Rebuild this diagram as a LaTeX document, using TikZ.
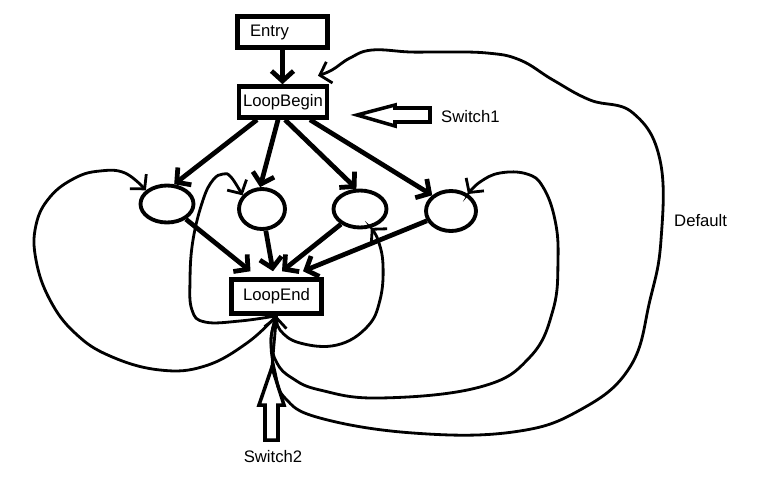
\documentclass[tikz,border=0pt]{standalone}
\usepackage{fontspec}
\setmainfont{Liberation Sans}
\usetikzlibrary{arrows.meta,shapes.geometric}

\begin{document}
\begin{tikzpicture}[
    x=0.02cm, y=-0.02cm,
    every node/.style={font=\fontsize{9.5}{11}\selectfont},
    box/.style={draw, line width=2.6pt, inner sep=0pt},
    blob/.style={draw, ellipse, line width=2.2pt, inner sep=0pt},
    flow/.style={line width=2.7pt,
                 -{Straight Barb[length=2mm,width=4.4mm]}},
    loopback/.style={line width=1.6pt,
                     -{Straight Barb[length=2mm,width=4.4mm]}},
    hollow/.style={draw, line width=2pt},
]

\useasboundingbox (0,0) rectangle (767,477);

\node [box, minimum width=1.8cm, minimum height=0.62cm,
       text width=1.3cm, align=left, inner xsep=0.25cm] (entry) at (282.5,32) {Entry};
\node [box, minimum width=1.76cm, minimum height=0.62cm] (loopbegin) at (283,102) {LoopBegin};
\node [box, minimum width=1.8cm, minimum height=0.68cm] (loopend) at (276.5,296.5) {LoopEnd};

\node [blob, minimum width=1.06cm, minimum height=0.74cm] (c1) at (167,204) {};
\node [blob, minimum width=0.92cm, minimum height=0.8cm] (c2) at (262,209) {};
\node [blob, minimum width=1.06cm, minimum height=0.74cm] (c3) at (360,209) {};
\node [blob, minimum width=1.0cm, minimum height=0.8cm] (c4) at (451,211) {};

\node [anchor=west] (switch1) at (435,117) {Switch1};
\node [anchor=west] (default) at (668,221) {Default};
\node (switch2) at (273,457) {Switch2};

\draw [hollow] (357,115) -- (395,105) -- (395,108) -- (430,108)
    -- (430,122) -- (395,122) -- (395,126) -- cycle;
\draw [hollow] (272,367) -- (284,405) -- (278,405) -- (278,440)
    -- (265,440) -- (265,405) -- (259,405) -- cycle;
\coordinate (sw2tip) at (272,367);

\draw [flow] (entry.south) -- (entry.south |- loopbegin.north);

\draw [flow] ([xshift=-0.52cm]loopbegin.south) -- (c1.70);
\draw [flow] ([xshift=-0.1cm]loopbegin.south) -- (c2.95);
\draw [flow] ([xshift=0.04cm]loopbegin.south) -- (c3.100);
\draw [flow] ([xshift=0.54cm]loopbegin.south) -- (c4.140);

\draw [flow] (c1) -- ([xshift=-0.52cm,yshift=0.12cm]loopend.north);
\draw [flow] (c2) -- ([xshift=-0.07cm,yshift=0.12cm]loopend.north);
\draw [flow] (c3) -- ([xshift=0.11cm,yshift=0.12cm]loopend.north);
\draw [flow] (c4) -- ([xshift=0.53cm,yshift=0.12cm]loopend.north);

\draw [loopback] (sw2tip) -- (loopend.south);

\draw [loopback] plot [smooth, tension=0.7] coordinates {
    (loopend.south) (247,343) (205,366) (160,370) (110,356) (75,333)
    (50,300) (36,260) (36,225) (50,197) (75,178) (100,171) (125,173) (c1.147)};
\draw [loopback] plot [smooth, tension=0.7] coordinates {
    (loopend.south) (240,321) (205,322) (192,310) (190,280) (193,240)
    (203,200) (213,180) (223,174) (231,177) (c2.145)};
\draw [loopback] plot [smooth, tension=0.7] coordinates {
    (loopend.south) (280,330) (300,343) (337,345) (367,327) (380,300)
    (383,265) (378,240) (c3.-60)};
\draw [loopback] plot [smooth, tension=0.7] coordinates {
    (loopend.south) (271,340) (277,363) (292,378) (320,390) (380,398)
    (480,387) (530,357) (553,310) (558,260) (555,220) (543,187)
    (527,174) (500,173) (480,182) (c4.45)};
\draw [loopback] plot [smooth, tension=0.7] coordinates {
    (loopend.south) (271,340) (275,372) (285,398) (320,418) (413,433)
    (513,432) (580,410) (630,367) (650,300) (661,240) (660,160)
    (633,113) (590,100) (553,80) (520,60) (487,53) (440,52) (410,52)
    (372,50) (350,58) (332,70) ([xshift=0.7cm,yshift=0.17cm]loopbegin.north)};

\end{tikzpicture}
\end{document}
